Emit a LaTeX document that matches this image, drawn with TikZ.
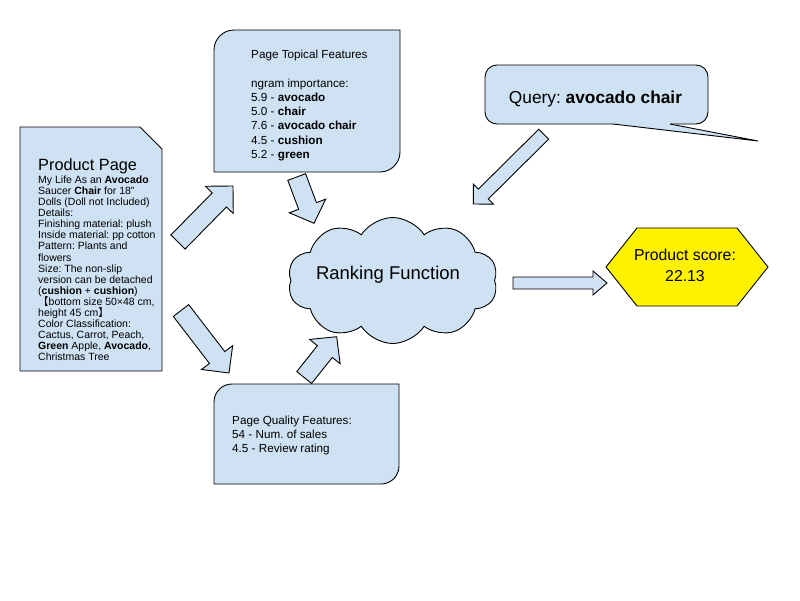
\documentclass[tikz,border=0pt]{standalone}
\usepackage{fontspec}
\setmainfont{Liberation Sans}
\newfontfamily\cjk{Noto Sans CJK SC}
\usetikzlibrary{shapes.symbols,calc}
\definecolor{lblue}{HTML}{CFE2F3}
\frenchspacing
\tikzset{
  boxstyle/.style={draw=black, fill=lblue, line width=0.9pt, line join=round},
  barrowstyle/.style={draw=black, fill=lblue, line width=0.9pt, line join=miter},
  bodytext/.style={inner sep=0pt, align=left, font=\fontsize{10.5}{11.1}\selectfont},
  midtext/.style={inner sep=0pt, align=left, font=\fontsize{11.7}{14.2}\selectfont},
  titletext/.style={inner sep=0pt, font=\fontsize{16.3}{20}\selectfont},
  bigtext/.style={inner sep=0pt, font=\fontsize{18.5}{22}\selectfont}
}
% block arrow: #1 tail coordinate, #2 tip coordinate, #3 shaft half width, #4 head half width, #5 head length
\newcommand{\blockarrowdraw}[5]{%
  \draw[barrowstyle]
    ($(#1)!#3!90:(#2)$) --
    ($(#2)!#5!(#1)!#3!-90:(#1)$) --
    ($(#2)!#5!(#1)!#4!-90:(#1)$) --
    (#2) --
    ($(#2)!#5!(#1)!#4!90:(#1)$) --
    ($(#2)!#5!(#1)!#3!90:(#1)$) --
    ($(#1)!#3!-90:(#2)$) -- cycle;}
\begin{document}
\begin{tikzpicture}[x=1pt,y=-1pt]
\useasboundingbox (0,0) rectangle (800,600);
\fill[white] (0,0) rectangle (800,600);

% Product page
\draw[boxstyle] (20,127) -- (140,127) -- (162,149) -- (162,371) -- (20,371) -- cycle;
\node[titletext, anchor=base west] (pptitle) at (38,170) {Product Page};
\node[bodytext, anchor=north west] (ppbody) at (38,175.5) {%
My Life As an \textbf{Avocado}\\
Saucer \textbf{Chair} for 18\char34\\
Dolls (Doll not Included)\\
Details:\\
Finishing material: plush\\
Inside material: pp cotton\\
Pattern: Plants and\\
flowers\\
Size: The non-slip\\
version can be detached\\
(\textbf{cushion} + \textbf{cushion})\\
{\cjk 【}bottom size 50×48 cm,\\
height 45 cm{\cjk 】}\\
Color Classification:\\
Cactus, Carrot, Peach,\\
\textbf{Green} Apple, \textbf{Avocado},\\
Christmas Tree};

% Page topical features
\draw[boxstyle] (214,172) -- (214,50) arc[start angle=180,end angle=90,radius=20pt]
  -- (400,30) -- (400,152) arc[start angle=0,end angle=-90,radius=20pt] -- cycle;
\node[midtext, anchor=north west] (topical) at (251,50.3) {%
Page Topical Features\\[14.2pt]
ngram importance:\\
5.9 - \textbf{avocado}\\
5.0 - \textbf{chair}\\
7.6 - \textbf{avocado chair}\\
4.5 - \textbf{cushion}\\
5.2 - \textbf{green}};

% Page quality features
\draw[boxstyle] (214,484) -- (214,402) arc[start angle=180,end angle=90,radius=18pt]
  -- (399,384) -- (399,466) arc[start angle=0,end angle=-90,radius=18pt] -- cycle;
\node[midtext, anchor=north west] (quality) at (232,415.8) {%
Page Quality Features:\\
54 - Num. of sales\\
4.5 - Review rating};

% Query callout
\draw[boxstyle, rounded corners=12pt] (485,65) rectangle (708,124);
\fill[lblue] (613,122.8) -- (670,122.8) -- (670,124) -- (758,141) -- (613,124) -- cycle;
\draw[line width=0.9pt, line join=miter] (613,124) -- (758,141) -- (670,124);
\node[inner sep=0pt, font=\fontsize{17.3}{20}\selectfont] (query) at (595.5,99) {Query: \textbf{avocado chair}};

% Ranking function cloud
\node[cloud, cloud puffs=10, cloud puff arc=115, aspect=1.7, draw=black, fill=lblue,
  line width=0.9pt, minimum width=210pt, minimum height=126pt, inner sep=0pt] (rank) at (392.7,280.5) {};
\node[bigtext] (ranktext) at (388,275) {Ranking Function};

% Product score hexagon
\draw[draw=black, fill=yellow, line width=0.9pt, line join=miter]
  (606,267) -- (637,228) -- (737,228) -- (768,267) -- (737,306) -- (637,306) -- cycle;
\node[inner sep=0pt, align=center, font=\fontsize{15.8}{21}\selectfont] (score) at (685,265) {Product score:\\22.13};

% Block arrows
\coordinate (a1t) at (178,242);   \coordinate (a1h) at (233,186);
\coordinate (a2t) at (181,310.5); \coordinate (a2h) at (229,373);
\coordinate (a3t) at (296.7,177); \coordinate (a3h) at (314,223.3);
\coordinate (a4t) at (304.2,377.5); \coordinate (a4h) at (336.7,336.7);
\coordinate (a5t) at (543.7,134.2); \coordinate (a5h) at (473.3,204);
\coordinate (a6t) at (513,283); \coordinate (a6h) at (607,283);
\blockarrowdraw{a1t}{a1h}{10pt}{19.5pt}{19.5pt}
\blockarrowdraw{a2t}{a2h}{9.7pt}{19.6pt}{19.5pt}
\blockarrowdraw{a3t}{a3h}{9.5pt}{19.4pt}{18.5pt}
\blockarrowdraw{a4t}{a4h}{9.5pt}{19.5pt}{19pt}
\blockarrowdraw{a5t}{a5h}{7pt}{14.2pt}{14.1pt}
\blockarrowdraw{a6t}{a6h}{6pt}{12pt}{14pt}
\end{tikzpicture}
\end{document}
